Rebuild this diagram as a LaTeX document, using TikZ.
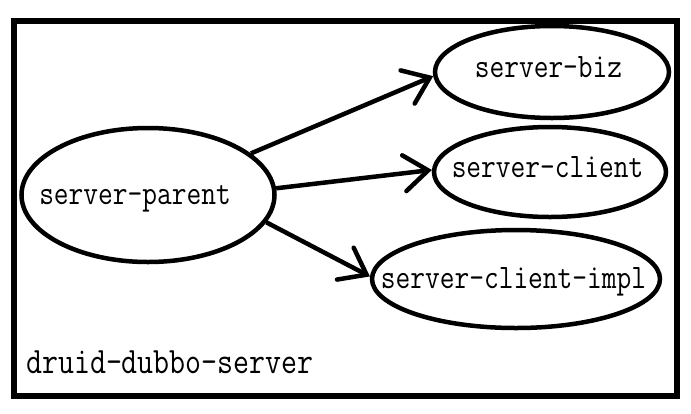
\documentclass[tikz,border=0pt]{standalone}
\usepackage{fontspec}
\usepackage{graphicx}
\usetikzlibrary{shapes.geometric,arrows.meta}
\newcommand\lblfont[2]{\scalebox{1}[1.2]{\fontsize{#1}{#1}\selectfont\ttfamily #2}}
\newcommand\inlbl[2]{\makebox[0pt][c]{\lblfont{28.6}{#1}\hspace*{#2}}}
\tikzset{
  oval/.style={draw=black, line width=4.5pt, ellipse, inner sep=0pt, text depth=0pt},
  arr/.style={line width=4.5pt, -{Straight Barb[length=24pt,width=36pt,line cap=round]}},
}
\begin{document}
\begin{tikzpicture}[x=1pt,y=-1pt]
\path[use as bounding box, fill=white] (0,0) rectangle (691,413);
\draw[line width=5.5pt] (14,21) rectangle (677,396);
\node[oval, minimum width=253pt, minimum height=134pt, text height=18pt] (parent) at (148,195) {\inlbl{server-parent}{26pt}};
\node[oval, minimum width=234pt, minimum height=92pt, text height=10pt] (biz) at (552,72) {\inlbl{server-biz}{7pt}};
\node[oval, minimum width=232pt, minimum height=90pt, text height=10pt] (client) at (550,172) {\inlbl{server-client}{5pt}};
\node[oval, minimum width=288pt, minimum height=98pt, text height=18pt] (impl) at (516,279) {\inlbl{server-client-impl}{5pt}};
\node[anchor=base west, inner sep=0pt] (title) at (26,373) {\lblfont{31}{druid-dubbo-server}};
\draw[arr] (parent.22.5) -- (biz.182.4);
\draw[arr] (parent.3.6) -- (client.179.5);
\draw[arr] (parent.-13.7) -- (impl.179.6);
\end{tikzpicture}
\end{document}
